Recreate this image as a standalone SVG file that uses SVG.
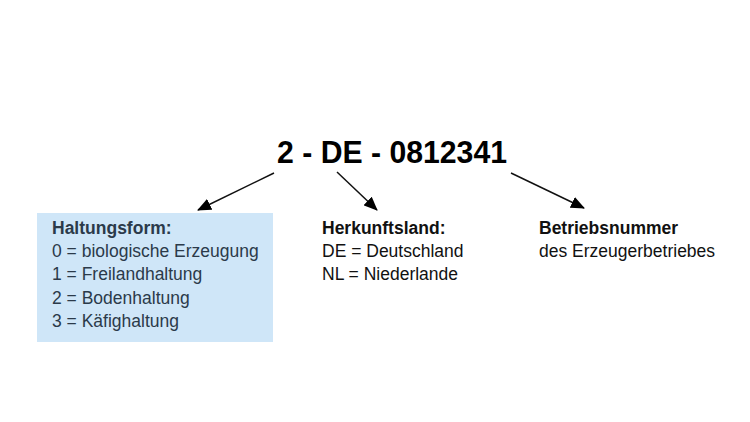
<svg xmlns="http://www.w3.org/2000/svg" width="750" height="422" viewBox="0 0 750 422">
<defs>
<marker id="ah" markerWidth="14" markerHeight="12" refX="13" refY="6" orient="auto" markerUnits="userSpaceOnUse">
<path d="M0,0 L14,6 L0,12 z" fill="#000"/>
</marker>
<style>
.t{font-family:"Liberation Sans",Arial,sans-serif;font-size:17.5px;fill:#111}
.b{font-weight:bold}
.box{fill:#cfe6f8}
.bt{fill:#2b3a4a}
.c{stroke:#111;stroke-width:1.5;fill:none;marker-end:url(#ah)}
</style>
</defs>
<rect width="750" height="422" fill="#fff"/>
<g id="code">
<text x="392" y="163" text-anchor="middle" style="font-family:'Liberation Sans',Arial,sans-serif;font-weight:bold;font-size:31px;fill:#000" textLength="230" lengthAdjust="spacingAndGlyphs">2 - DE - 0812341</text>
</g>
<g id="connectors">
<line class="c" x1="274" y1="173" x2="198" y2="210"/>
<line class="c" x1="337" y1="172" x2="377" y2="210"/>
<line class="c" x1="511" y1="173" x2="584" y2="208"/>
</g>
<g id="haltungsform">
<rect class="box" x="37" y="213" width="236" height="129"/>
<text class="t bt b" x="52" y="234">Haltungsform:</text>
<text class="t bt" x="52" y="257">0 = biologische Erzeugung</text>
<text class="t bt" x="52" y="280">1 = Freilandhaltung</text>
<text class="t bt" x="52" y="304">2 = Bodenhaltung</text>
<text class="t bt" x="52" y="327">3 = Käfighaltung</text>
</g>
<g id="herkunftsland">
<text class="t b" x="322" y="234">Herkunftsland:</text>
<text class="t" x="322" y="257">DE = Deutschland</text>
<text class="t" x="322" y="280">NL = Niederlande</text>
</g>
<g id="betriebsnummer">
<text class="t b" x="539" y="234">Betriebsnummer</text>
<text class="t" x="539" y="257">des Erzeugerbetriebes</text>
</g>
</svg>
